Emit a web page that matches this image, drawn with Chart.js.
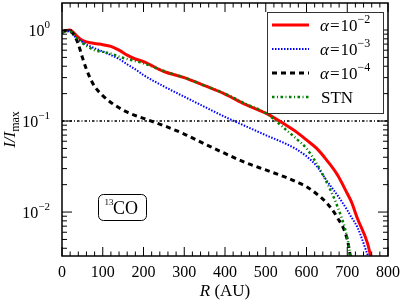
<!DOCTYPE html>
<html>
<head>
<meta charset="utf-8">
<script src="https://cdn.jsdelivr.net/npm/chart.js@4.4.0/dist/chart.umd.min.js"></script>
<style>
  html, body { margin: 0; padding: 0; background: #fff; }
</style>
</head>
<body>
<canvas id="profileChart" width="407" height="305"></canvas>
<script>
// radius grid (AU) and normalised intensity I/Imax per model
const radius = [0, 10, 20, 30, 40, 50, 60, 70, 80, 100, 120, 140, 160, 180, 200, 250, 300, 350, 400, 450, 500, 550, 575, 600, 625, 650, 675, 700, 710, 725, 750, 760];
const alpha2 = [0.95, 0.99, 1.0, 0.92, 0.83, 0.77, 0.74, 0.725, 0.71, 0.69, 0.66, 0.60, 0.53, 0.48, 0.45, 0.35, 0.30, 0.245, 0.198, 0.152, 0.122, 0.090, 0.076, 0.062, 0.050, 0.037, 0.026, 0.016, 0.013, 0.0085, 0.0045, 0.0029];
const alpha3 = [0.93, 0.97, 0.97, 0.86, 0.79, 0.74, 0.69, 0.66, 0.63, 0.58, 0.53, 0.48, 0.42, 0.37, 0.32, 0.24, 0.185, 0.143, 0.111, 0.088, 0.070, 0.056, 0.049, 0.041, 0.032, 0.022, 0.0155, 0.0105, 0.0088, 0.0068, 0.0034, 0.0026];
const alpha4 = [0.95, 0.99, 0.97, 0.88, 0.70, 0.50, 0.37, 0.29, 0.24, 0.19, 0.16, 0.14, 0.125, 0.115, 0.107, 0.089, 0.072, 0.056, 0.044, 0.035, 0.029, 0.024, 0.0215, 0.019, 0.0158, 0.0125, 0.0088, 0.0050, 0.0028, null, null, null];
const stn = [0.93, 0.97, 0.97, 0.88, 0.79, 0.72, 0.67, 0.63, 0.60, 0.575, 0.55, 0.51, 0.48, 0.455, 0.43, 0.355, 0.30, 0.245, 0.20, 0.155, 0.122, 0.080, 0.064, 0.050, 0.034, 0.021, 0.0118, 0.0052, 0.0028, null, null, null];
const refLevel = 0.1;

const legendLabels = [['10', '\u22122'], ['10', '\u22123'], ['10', '\u22124'], 'STN'];
const yTickValues = [1, 0.1, 0.01];
const yTickExps = ['0', '\u22121', '\u22122'];
const xMin = 0, xMax = 800, xStep = 100, xMinor = 20;
const yMin = 0.00329, yMax = 1.98;

const SERIF = "'Liberation Serif', 'DejaVu Serif', serif";

function toPoints(vals) {
    return radius.map((r, i) => ({ x: r, y: vals[i] }));
}

function lineStyle(color, width, dash) {
    return {
        borderColor: color,
        backgroundColor: color,
        borderWidth: width,
        borderDash: dash,
        fill: false,
        pointRadius: 0,
        cubicInterpolationMode: 'monotone',
        clip: 0
    };
}

const series = [
    Object.assign({ label: 'a2', data: toPoints(alpha2) }, lineStyle('#ff0000', 3, [])),
    Object.assign({ label: 'a3', data: toPoints(alpha3) }, lineStyle('#0000ff', 2, [1.5, 1.5])),
    Object.assign({ label: 'a4', data: toPoints(alpha4) }, lineStyle('#000000', 3, [5, 4])),
    Object.assign({ label: 'stn', data: toPoints(stn) }, lineStyle('#008000', 2.5, [2.5, 2.5, 1, 2.5]))
];
const hline = Object.assign({ label: 'ref', data: [{ x: xMin, y: refLevel }, { x: xMax, y: refLevel }] },
    lineStyle('#000000', 1.5, [2.5, 2, 1, 2]));

// chart.js draws dataset 0 on top, so list them reversed
const datasets = [series[3], series[2], series[1], series[0], hline];

function supText(ctx, x, y, base, sup, baseSize, supSize, rise) {
    ctx.font = baseSize + 'px ' + SERIF;
    ctx.fillText(base, x, y);
    const w = ctx.measureText(base).width;
    ctx.font = supSize + 'px ' + SERIF;
    ctx.fillText(sup, x + w, y - rise);
    return w + ctx.measureText(sup).width;
}

const decorations = {
    id: 'decorations',
    afterDraw(chart) {
        const { ctx, chartArea: a, scales: { x, y } } = chart;
        ctx.save();
        ctx.strokeStyle = '#000';
        ctx.fillStyle = '#000';
        ctx.lineWidth = 1;
        ctx.setLineDash([]);
        const seg = (x1, y1, x2, y2) => {
            ctx.beginPath(); ctx.moveTo(x1, y1); ctx.lineTo(x2, y2); ctx.stroke();
        };

        // x ticks, bottom and top, pointing in
        for (let v = xMin; v <= xMax; v += xMinor) {
            const px = x.getPixelForValue(v);
            const len = v % xStep === 0 ? 9 : 4.5;
            seg(px, a.bottom, px, a.bottom - len);
            seg(px, a.top, px, a.top + len);
        }
        // y ticks (log), left and right
        for (let e = -3; e <= 0; e++) {
            for (let m = 1; m <= 9; m++) {
                const v = m * Math.pow(10, e);
                if (v < yMin || v > yMax) continue;
                const py = y.getPixelForValue(v);
                const len = m === 1 ? 10 : 5;
                seg(a.left, py, a.left + len, py);
                seg(a.right, py, a.right - len, py);
            }
        }
        // frame
        ctx.lineWidth = 1.5;
        ctx.strokeRect(a.left, a.top, a.right - a.left, a.bottom - a.top);

        // y tick labels 10^n
        ctx.textBaseline = 'alphabetic';
        yTickValues.forEach((v, i) => {
            const py = y.getPixelForValue(v);
            ctx.font = '16px ' + SERIF;
            const w1 = ctx.measureText('10').width;
            ctx.font = '11px ' + SERIF;
            const w2 = ctx.measureText(yTickExps[i]).width;
            supText(ctx, 50 - w1 - w2, py + 5.5, '10', yTickExps[i], 16, 11, 8);
        });

        // axis titles
        ctx.font = 'italic 17px ' + SERIF;
        const wR = ctx.measureText('R').width;
        ctx.font = '17px ' + SERIF;
        const wAU = ctx.measureText(' (AU)').width;
        const cx = (a.left + a.right) / 2;
        let tx = cx - (wR + wAU) / 2;
        ctx.font = 'italic 17px ' + SERIF;
        ctx.fillText('R', tx, 296);
        ctx.font = '17px ' + SERIF;
        ctx.fillText(' (AU)', tx + wR, 296);

        ctx.save();
        ctx.translate(15, (a.top + a.bottom) / 2);
        ctx.rotate(-Math.PI / 2);
        ctx.font = 'italic 17px ' + SERIF;
        const wI = ctx.measureText('I/I').width;
        ctx.font = '12px ' + SERIF;
        const wMax = ctx.measureText('max').width;
        let ty = -(wI + wMax) / 2;
        ctx.font = 'italic 17px ' + SERIF;
        ctx.fillText('I/I', ty, 0);
        ctx.font = '12px ' + SERIF;
        ctx.fillText('max', ty + wI, 4);
        ctx.restore();

        // 13CO label box
        ctx.lineWidth = 1;
        ctx.beginPath();
        ctx.roundRect(98.5, 194.5, 48, 26, 5);
        ctx.fillStyle = '#fff';
        ctx.fill();
        ctx.stroke();
        ctx.fillStyle = '#000';
        ctx.font = '9px ' + SERIF;
        ctx.fillText('13', 104.5, 205);
        ctx.font = '18px ' + SERIF;
        ctx.fillText('CO', 113, 213.5);

        // legend
        const lx = 267.5, ly = 12.5, lw = 116, lh = 101;
        ctx.fillStyle = '#fff';
        ctx.fillRect(lx, ly, lw, lh);
        ctx.strokeStyle = '#333';
        ctx.lineWidth = 1;
        ctx.strokeRect(lx, ly, lw, lh);
        const rows = [25, 49, 73, 97];
        series.forEach((ds, i) => {
            const ry = rows[i];
            ctx.strokeStyle = ds.borderColor;
            ctx.lineWidth = ds.borderWidth;
            ctx.setLineDash(ds.borderDash);
            seg(272, ry, 309, ry);
            ctx.setLineDash([]);
            ctx.fillStyle = '#000';
            const lab = legendLabels[i];
            if (typeof lab === 'string') {
                ctx.font = '17px ' + SERIF;
                ctx.fillText(lab, 321, ry + 6);
            } else {
                ctx.font = 'italic 17px ' + SERIF;
                ctx.fillText('\u03b1', 320, ry + 6);
                let px = 320 + ctx.measureText('\u03b1').width + 1;
                ctx.font = '17px ' + SERIF;
                ctx.fillText('=', px, ry + 6);
                px += ctx.measureText('=').width + 1;
                supText(ctx, px, ry + 6, lab[0], lab[1], 17, 12, 8);
            }
        });
        ctx.restore();
    }
};

new Chart(document.getElementById('profileChart').getContext('2d'), {
    type: 'line',
    data: { datasets: datasets },
    options: {
        responsive: false,
        animation: false,
        layout: { padding: { top: 3, right: 15, left: 0, bottom: 0 } },
        plugins: { legend: { display: false }, tooltip: { enabled: false } },
        scales: {
            x: {
                type: 'linear',
                min: xMin,
                max: xMax,
                grid: { display: false, drawTicks: false },
                border: { display: false },
                ticks: {
                    stepSize: xStep,
                    padding: 7,
                    maxRotation: 0,
                    color: '#000',
                    font: { family: SERIF, size: 16 }
                },
                afterFit: s => { s.height = 49; }
            },
            y: {
                type: 'logarithmic',
                min: yMin,
                max: yMax,
                grid: { display: false, drawTicks: false },
                border: { display: false },
                ticks: { display: false },
                afterFit: s => { s.width = 62; }
            }
        }
    },
    plugins: [decorations]
});
</script>
</body>
</html>
